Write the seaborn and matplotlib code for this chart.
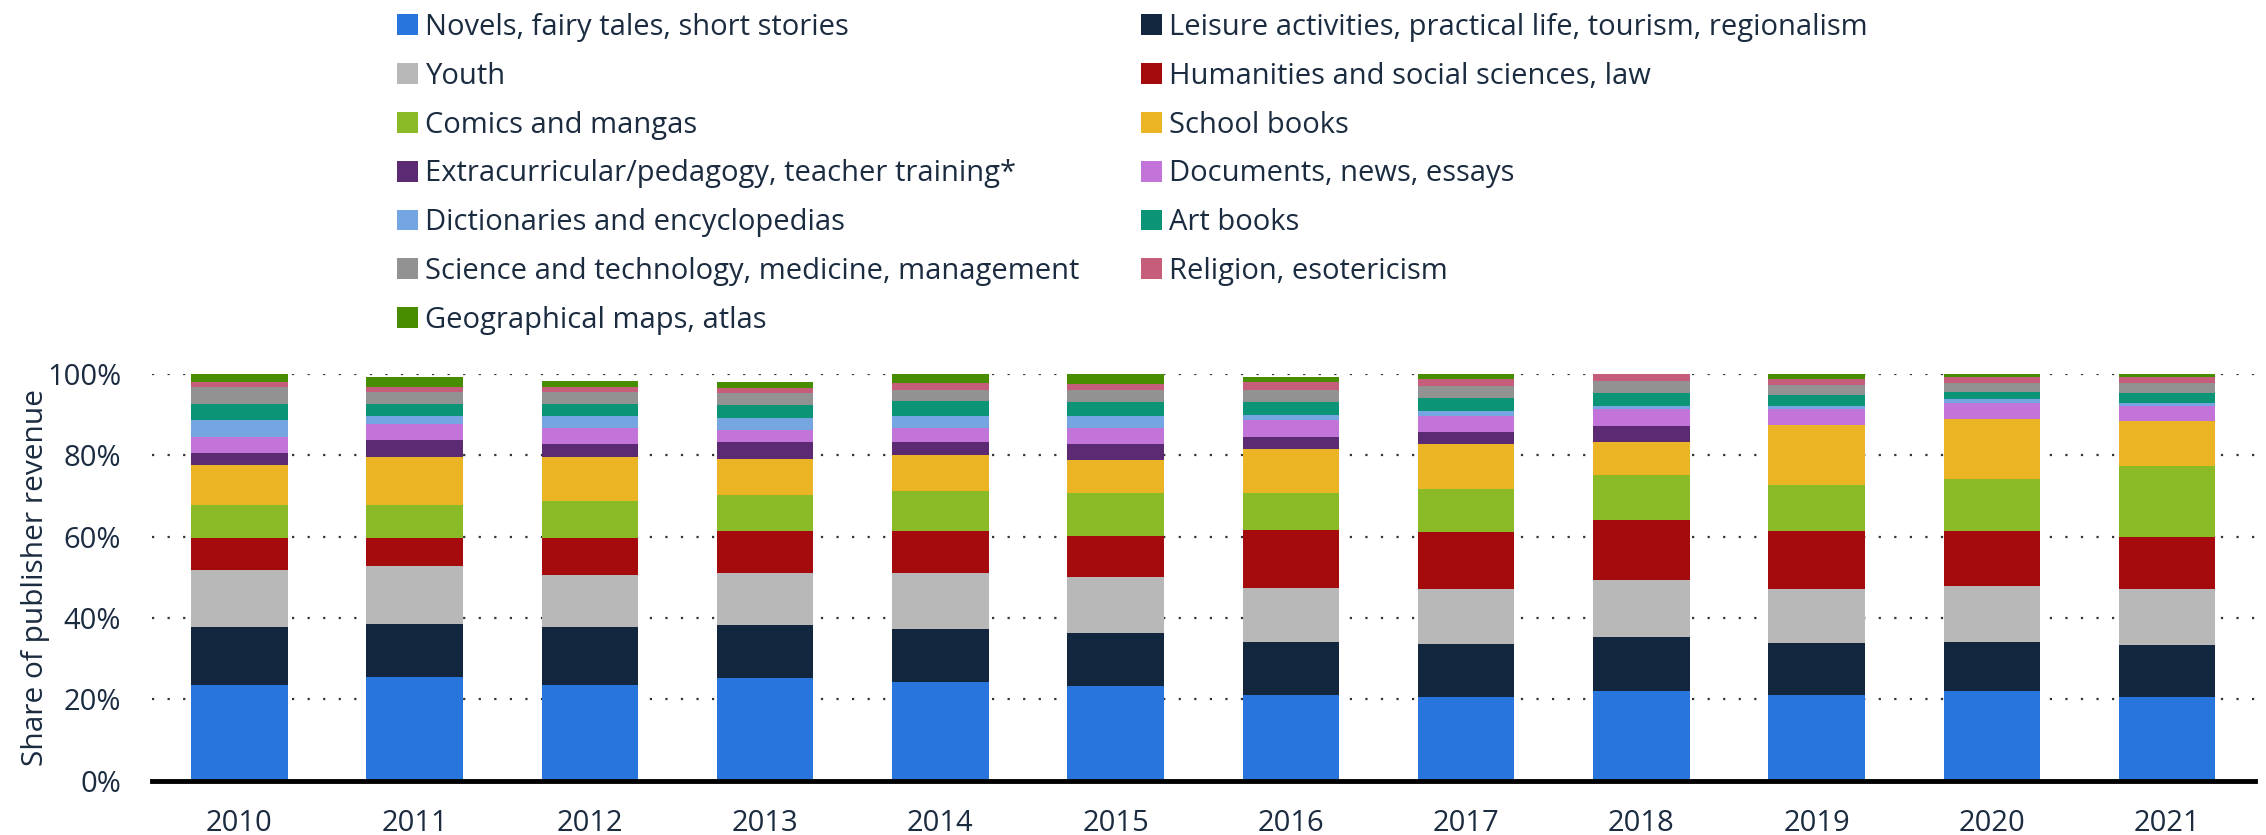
import numpy as np
import pandas as pd
import seaborn as sns
import matplotlib.pyplot as plt
import matplotlib.ticker as mticker
from matplotlib.patches import Patch

# Share of publisher revenue by book category (%)
years = ['2010', '2011', '2012', '2013', '2014', '2015', '2016', '2017', '2018', '2019', '2020', '2021']
novels = [23.6, 25.6, 23.6, 25.2, 24.3, 23.2, 21.1, 20.6, 22.1, 21.0, 22.1, 20.6]
leisure = [14.1, 13.0, 14.1, 13.0, 13.0, 13.1, 13.0, 13.1, 13.2, 12.9, 12.1, 12.7]
youth = [14.0, 14.1, 13.0, 13.0, 13.9, 13.9, 13.4, 13.4, 14.0, 13.2, 13.6, 13.9]
humanities = [7.9, 6.9, 8.9, 10.1, 10.1, 10.0, 14.1, 14.1, 14.9, 14.3, 13.7, 12.8]
comics = [8.1, 8.1, 9.1, 9.0, 9.9, 10.6, 9.1, 10.5, 11.0, 11.4, 12.6, 17.3]
school = [9.9, 12.0, 11.0, 8.9, 9.0, 8.0, 10.9, 11.0, 8.0, 14.6, 14.9, 11.1]
extracurricular = [3.0, 4.0, 3.0, 4.1, 3.1, 4.0, 3.0, 3.0, 4.0, 0.0, 0.0, 0.0]
documents = [4.0, 4.0, 4.0, 3.0, 3.5, 4.0, 4.0, 3.9, 4.1, 3.9, 3.9, 3.8]
dictionaries = [4.0, 1.9, 2.9, 3.0, 3.0, 3.0, 1.4, 1.4, 0.9, 0.9, 0.9, 0.8]
art = [4.1, 3.1, 3.1, 3.0, 3.5, 3.4, 3.1, 3.0, 3.1, 2.7, 1.8, 2.3]
science = [4.0, 3.0, 3.0, 3.0, 2.9, 3.0, 3.0, 3.1, 2.9, 2.5, 2.3, 2.4]
religion = [1.3, 1.1, 1.1, 1.3, 1.5, 1.3, 1.9, 1.8, 1.7, 1.5, 1.3, 1.6]
maps = [2.1, 2.5, 1.6, 1.4, 2.4, 2.4, 1.4, 1.2, 0.2, 1.1, 0.9, 0.8]

# stacking order, bottom to top
series = [
    ('Novels, fairy tales, short stories', novels, '#2876dd'),
    ('Leisure activities, practical life, tourism, regionalism', leisure, '#12263d'),
    ('Youth', youth, '#b8b8b8'),
    ('Humanities and social sciences, law', humanities, '#a50b0c'),
    ('Comics and mangas', comics, '#8aba25'),
    ('School books', school, '#ebb424'),
    ('Extracurricular/pedagogy, teacher training*', extracurricular, '#5c2a72'),
    ('Documents, news, essays', documents, '#c274d8'),
    ('Dictionaries and encyclopedias', dictionaries, '#76a6e2'),
    ('Art books', art, '#0c9477'),
    ('Science and technology, medicine, management', science, '#929292'),
    ('Religion, esotericism', religion, '#c65e7b'),
    ('Geographical maps, atlas', maps, '#488c00'),
]

df = pd.DataFrame({name: vals for name, vals, _ in series}, index=years)
cum = df.cumsum(axis=1)

text_color = '#1b2b40'
sns.set_style('white')
plt.rcParams['font.family'] = ['Open Sans', 'DejaVu Sans']

fig, ax = plt.subplots(figsize=(22.66, 8.35), dpi=100)

# draw cumulative totals from the top layer down so each segment shows
for name, _, color in reversed(series):
    sns.barplot(x=years, y=cum[name].values, color=color, saturation=1,
                width=0.55, linewidth=0, ax=ax, zorder=3)

ax.set_ylim(0, 100)
ax.set_xlim(-0.5, 11.5)
ax.yaxis.set_major_locator(mticker.MultipleLocator(20))
ax.yaxis.set_major_formatter(mticker.FuncFormatter(lambda v, p: f'{v:.0f}%'))
ax.yaxis.grid(True, linestyle=(0, (1, 6)), color='#333333', linewidth=1.6, zorder=0)
ax.xaxis.grid(False)
for s in ['top', 'right', 'left']:
    ax.spines[s].set_visible(False)
ax.spines['bottom'].set_color('black')
ax.spines['bottom'].set_linewidth(3.5)
ax.spines['bottom'].set_zorder(5)
ax.tick_params(axis='both', length=0, labelsize=21, labelcolor=text_color)
ax.tick_params(axis='y', pad=22)
ax.tick_params(axis='x', pad=20)
ax.set_ylabel('Share of publisher revenue', fontsize=21.5, color=text_color, labelpad=-2)
ax.set_xlabel('')

# legend: two columns, left column filled first
handles = [Patch(facecolor=c, edgecolor='none') for _, _, c in series]
labels = [n for n, _, _ in series]
order = [0, 2, 4, 6, 8, 10, 12, 1, 3, 5, 7, 9, 11]
leg = fig.legend([handles[i] for i in order], [labels[i] for i in order],
                 ncol=2, loc='upper left', bbox_to_anchor=(0.1637, 1.016),
                 frameon=False, fontsize=21, handlelength=0.72, handleheight=0.72,
                 handletextpad=0.25, columnspacing=2.1, labelspacing=0.68)
for t in leg.get_texts():
    t.set_color(text_color)

fig.subplots_adjust(left=0.067, right=0.995, bottom=0.065, top=0.552)
fig.savefig('out.png', dpi=100)
